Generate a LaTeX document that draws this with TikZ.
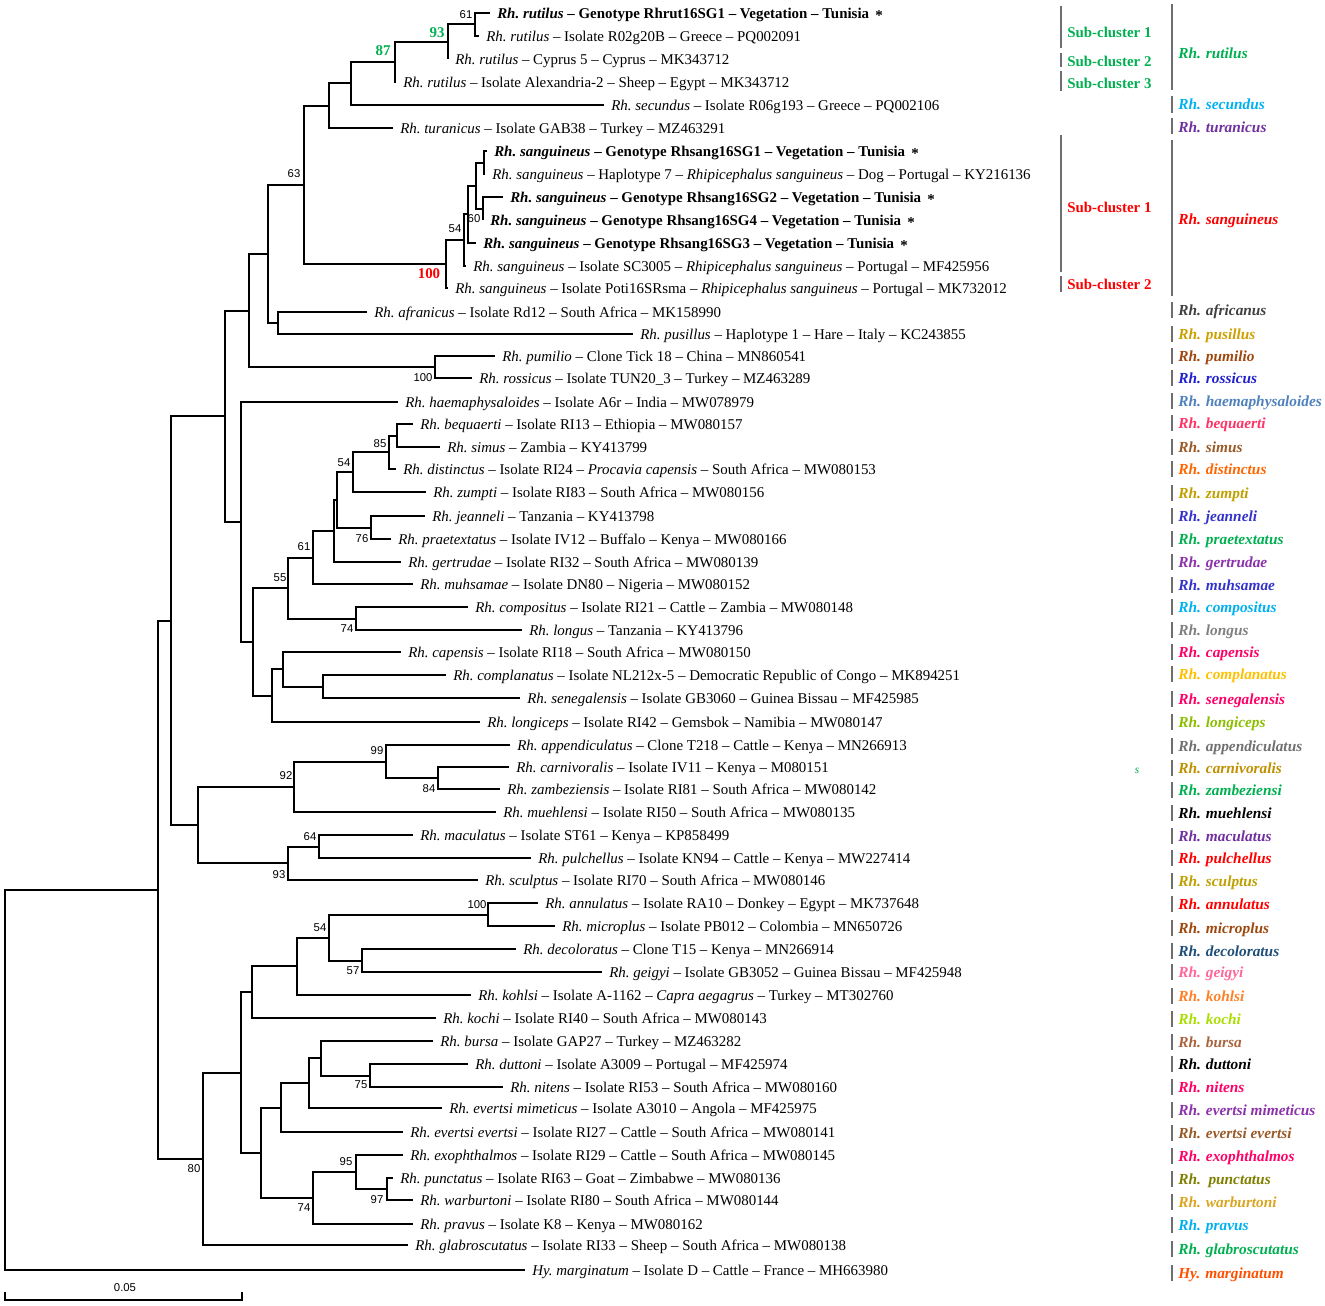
\documentclass[tikz,border=0pt]{standalone}
\usepackage{fontspec}
\setmainfont{Liberation Serif}
\newfontfamily\bsfont{Liberation Sans}

\definecolor{cgreen}{RGB}{0,176,80}
\definecolor{csecundus}{RGB}{0,176,240}
\definecolor{cturanicus}{RGB}{112,48,160}
\definecolor{cred}{RGB}{255,0,0}
\definecolor{cafricanus}{RGB}{64,64,64}
\definecolor{cpusillus}{RGB}{204,160,0}
\definecolor{cpumilio}{RGB}{158,72,14}
\definecolor{crossicus}{RGB}{32,32,204}
\definecolor{chaema}{RGB}{79,129,189}
\definecolor{cbequaerti}{RGB}{255,51,102}
\definecolor{csimus}{RGB}{153,90,40}
\definecolor{cdistinctus}{RGB}{255,102,0}
\definecolor{czumpti}{RGB}{191,160,0}
\definecolor{cjeanneli}{RGB}{51,51,204}
\definecolor{cgertrudae}{RGB}{140,50,170}
\definecolor{clongus}{RGB}{128,128,128}
\definecolor{ccapensis}{RGB}{255,0,102}
\definecolor{ccomplanatus}{RGB}{255,192,0}
\definecolor{clongiceps}{RGB}{140,190,0}
\definecolor{cappend}{RGB}{112,112,112}
\definecolor{ccarniv}{RGB}{191,144,0}
\definecolor{cdecol}{RGB}{31,78,121}
\definecolor{cgeigyi}{RGB}{255,102,153}
\definecolor{ckohlsi}{RGB}{255,127,39}
\definecolor{ckochi}{RGB}{170,221,0}
\definecolor{cbursa}{RGB}{170,100,60}
\definecolor{cpunct}{RGB}{128,128,0}
\definecolor{cwarb}{RGB}{218,165,32}
\definecolor{cmargin}{RGB}{255,80,0}
\definecolor{cbar}{RGB}{110,110,110}

\tikzset{
  branch/.style={line width=1.5pt},
  bar/.style={line width=2.2pt, color=cbar},
  tiplab/.style={anchor=base west, inner sep=0pt, font=\fontsize{11.2}{13}\selectfont},
  cladelab/.style={anchor=base west, inner sep=0pt, font=\fontsize{11.5}{13}\selectfont\bfseries\itshape},
  sublab/.style={anchor=base west, inner sep=0pt, font=\fontsize{11.2}{13}\selectfont\bfseries},
  bs/.style={inner sep=0pt, font=\bsfont\fontsize{8.5}{10}\selectfont},
  bsbig/.style={inner sep=0pt, font=\fontsize{11.2}{13}\selectfont\bfseries}
}

\newcommand{\rhsp}[1]{\textit{Rh.\ #1}}
\newcommand{\gstar}{\,\raisebox{-0.35ex}{*}}
\def\leaf(#1:#2,#3)#4{\coordinate (#1) at ({#2-7},#3); \node[tiplab] (#1l) at (#2,{#3+5.5}) {#4};}
\def\clade(#1:#2,#3)(#4,#5){\coordinate (#1) at (#2,#3); \draw[branch] (#4) -| (#1) |- (#5);}
\def\clab(#1:#2)#3#4{\draw[bar] (1172,{#2-8}) -- (1172,{#2+8}); \node[cladelab,text=#3] (#1) at (1178,{#2+5.5}) {#4};}

\begin{document}
\begin{tikzpicture}[x=0.75pt, y=-0.75pt]
			%%%%% START %%%%%
			\useasboundingbox (0,0) rectangle (1325,1306);
			
			% tips
			\leaf(t1:497,13){\textbf{\rhsp{rutilus} – Genotype Rhrut16SG1 – Vegetation – Tunisia \gstar}}
			\leaf(t2:486,36){\rhsp{rutilus} – Isolate R02g20B – Greece – PQ002091}
			\leaf(t3:455,59){\rhsp{rutilus} – Cyprus 5 – Cyprus – MK343712}
			\leaf(t4:403,82){\rhsp{rutilus} – Isolate Alexandria-2 – Sheep – Egypt – MK343712}
			\leaf(t5:611,105){\rhsp{secundus} – Isolate R06g193 – Greece – PQ002106}
			\leaf(t6:400,128){\rhsp{turanicus} – Isolate GAB38 – Turkey – MZ463291}
			\leaf(t7:494,151){\textbf{\rhsp{sanguineus} – Genotype Rhsang16SG1 – Vegetation – Tunisia \gstar}}
			\leaf(t8:492,174){\rhsp{sanguineus} – Haplotype 7 – \textit{Rhipicephalus sanguineus} – Dog – Portugal – KY216136}
			\leaf(t9:510,197){\textbf{\rhsp{sanguineus} – Genotype Rhsang16SG2 – Vegetation – Tunisia \gstar}}
			\leaf(t10:490,220){\textbf{\rhsp{sanguineus} – Genotype Rhsang16SG4 – Vegetation – Tunisia \gstar}}
			\leaf(t11:483,243){\textbf{\rhsp{sanguineus} – Genotype Rhsang16SG3 – Vegetation – Tunisia \gstar}}
			\leaf(t12:473,266){\rhsp{sanguineus} – Isolate SC3005 – \textit{Rhipicephalus sanguineus} – Portugal – MF425956}
			\leaf(t13:455,288){\rhsp{sanguineus} – Isolate Poti16SRsma – \textit{Rhipicephalus sanguineus} – Portugal – MK732012}
			\leaf(t14:374,312){\rhsp{afranicus} – Isolate Rd12 – South Africa – MK158990}
			\leaf(t15:640,334){\rhsp{pusillus} – Haplotype 1 – Hare – Italy – KC243855}
			\leaf(t16:502,356){\rhsp{pumilio} – Clone Tick 18 – China – MN860541}
			\leaf(t17:479,378){\rhsp{rossicus} – Isolate TUN20\_3 – Turkey – MZ463289}
			\leaf(t18:405,402){\rhsp{haemaphysaloides} – Isolate A6r – India – MW078979}
			\leaf(t19:420,424){\rhsp{bequaerti} – Isolate RI13 – Ethiopia – MW080157}
			\leaf(t20:447,447){\rhsp{simus} – Zambia – KY413799}
			\leaf(t21:403,469){\rhsp{distinctus} – Isolate RI24 – \textit{Procavia capensis} – South Africa – MW080153}
			\leaf(t22:433,492){\rhsp{zumpti} – Isolate RI83 – South Africa – MW080156}
			\leaf(t23:432,516){\rhsp{jeanneli} – Tanzania – KY413798}
			\leaf(t24:398,539){\rhsp{praetextatus} – Isolate IV12 – Buffalo – Kenya – MW080166}
			\leaf(t25:408,562){\rhsp{gertrudae} – Isolate RI32 – South Africa – MW080139}
			\leaf(t26:420,584){\rhsp{muhsamae} – Isolate DN80 – Nigeria – MW080152}
			\leaf(t27:475,607){\rhsp{compositus} – Isolate RI21 – Cattle – Zambia – MW080148}
			\leaf(t28:529,630){\rhsp{longus} – Tanzania – KY413796}
			\leaf(t29:408,652){\rhsp{capensis} – Isolate RI18 – South Africa – MW080150}
			\leaf(t30:453,675){\rhsp{complanatus} – Isolate NL212x-5 – Democratic Republic of Congo – MK894251}
			\leaf(t31:527,698){\rhsp{senegalensis} – Isolate GB3060 – Guinea Bissau – MF425985}
			\leaf(t32:487,722){\rhsp{longiceps} – Isolate RI42 – Gemsbok – Namibia – MW080147}
			\leaf(t33:517,745){\rhsp{appendiculatus} – Clone T218 – Cattle – Kenya – MN266913}
			\leaf(t34:516,767){\rhsp{carnivoralis} – Isolate IV11 – Kenya – M080151}
			\leaf(t35:507,789){\rhsp{zambeziensis} – Isolate RI81 – South Africa – MW080142}
			\leaf(t36:503,812){\rhsp{muehlensi} – Isolate RI50 – South Africa – MW080135}
			\leaf(t37:420,835){\rhsp{maculatus} – Isolate ST61 – Kenya – KP858499}
			\leaf(t38:538,858){\rhsp{pulchellus} – Isolate KN94 – Cattle – Kenya – MW227414}
			\leaf(t39:485,880){\rhsp{sculptus} – Isolate RI70 – South Africa – MW080146}
			\leaf(t40:545,903){\rhsp{annulatus} – Isolate RA10 – Donkey – Egypt – MK737648}
			\leaf(t41:562,926){\rhsp{microplus} – Isolate PB012 – Colombia – MN650726}
			\leaf(t42:523,949){\rhsp{decoloratus} – Clone T15 – Kenya – MN266914}
			\leaf(t43:609,972){\rhsp{geigyi} – Isolate GB3052 – Guinea Bissau – MF425948}
			\leaf(t44:478,995){\rhsp{kohlsi} – Isolate A-1162 – \textit{Capra aegagrus} – Turkey – MT302760}
			\leaf(t45:443,1018){\rhsp{kochi} – Isolate RI40 – South Africa – MW080143}
			\leaf(t46:440,1041){\rhsp{bursa} – Isolate GAP27 – Turkey – MZ463282}
			\leaf(t47:475,1064){\rhsp{duttoni} – Isolate A3009 – Portugal – MF425974}
			\leaf(t48:510,1087){\rhsp{nitens} – Isolate RI53 – South Africa – MW080160}
			\leaf(t49:449,1108){\rhsp{evertsi mimeticus} – Isolate A3010 – Angola – MF425975}
			\leaf(t50:410,1132){\rhsp{evertsi evertsi} – Isolate RI27 – Cattle – South Africa – MW080141}
			\leaf(t51:410,1155){\rhsp{exophthalmos} – Isolate RI29 – Cattle – South Africa – MW080145}
			\leaf(t52:400,1178){\rhsp{punctatus} – Isolate RI63 – Goat – Zimbabwe – MW080136}
			\leaf(t53:420,1200){\rhsp{warburtoni} – Isolate RI80 – South Africa – MW080144}
			\leaf(t54:420,1224){\rhsp{pravus} – Isolate K8 – Kenya – MW080162}
			\leaf(t55:415,1245){\rhsp{glabroscutatus} – Isolate RI33 – Sheep – South Africa – MW080138}
			\leaf(t56:532,1270){\textit{Hy.\ marginatum} – Isolate D – Cattle – France – MH663980}
			
			% rutilus / secundus / turanicus
			\clade(r61:475,24.5)(t1,t2)
			\clade(r93:448,41.75)(r61,t3)
			\clade(r87:395,61.9)(r93,t4)
			\clade(rsec:351,83.4)(r87,t5)
			\clade(rtur:329,105.7)(rsec,t6)
			
			% sanguineus
			\clade(sa:484,162.5)(t7,t8)
			\clade(sb:483,208.5)(t9,t10)
			\clade(sc:476,185.5)(sa,sb)
			\clade(s60:468,214.25)(sc,t11)
			\clade(s54:464,240.1)(s60,t12)
			\clade(s100:446,264)(s54,t13)
			\clade(n63:304,184.9)(rtur,s100)
			
			\clade(afr:278,323)(t14,t15)
			\clade(m1:268,254)(n63,afr)
			\clade(pr100:435,367)(t16,t17)
			\clade(m2:249,310.5)(m1,pr100)
			
			% afrotropical group
			\clade(bs:397,435.5)(t19,t20)
			\clade(n85:389,452.25)(bs,t21)
			\clade(n54a:353,472.1)(n85,t22)
			\clade(n76:371,527.5)(t23,t24)
			\clade(ay:337,499.8)(n54a,n76)
			\clade(ax:334,530.9)(ay,t25)
			\clade(n61b:313,557.5)(ax,t26)
			\clade(n74a:356,618.5)(t27,t28)
			\clade(n55:288,588)(n61b,n74a)
			\clade(cs:323,686.5)(t30,t31)
			\clade(cap:283,669.25)(t29,cs)
			\clade(lc:272,695.6)(cap,t32)
			\clade(big:253,641.8)(n55,lc)
			\clade(afro:241,521.9)(t18,big)
			\clade(m3:225,416.2)(m2,afro)
			
			\clade(n84:438,778)(t34,t35)
			\clade(n99:386,761.5)(t33,n84)
			\clade(n92:294,786.75)(n99,t36)
			\clade(n64:319,846.5)(t37,t38)
			\clade(n93b:288,863.25)(n64,t39)
			\clade(rh:198,825)(n92,n93b)
			\clade(m4:171,620.6)(m3,rh)
			
			% boophilus / evertsi group
			\clade(an100:488,914.5)(t40,t41)
			\clade(n57:362,960.5)(t42,t43)
			\clade(n54b:329,937.5)(an100,n57)
			\clade(ko:297,966.25)(n54b,t44)
			\clade(kc:252,992.1)(ko,t45)
			\clade(n75:370,1075.5)(t47,t48)
			\clade(bd:321,1058.25)(t46,n75)
			\clade(e2:309,1083.1)(bd,t49)
			\clade(e1:281,1107.6)(e2,t50)
			\clade(n97:387,1189)(t52,t53)
			\clade(n95:356,1172)(t51,n97)
			\clade(n74b:313,1198)(n95,t54)
			\clade(ev:261,1152.8)(e1,n74b)
			\clade(mm:241,1072.5)(kc,ev)
			\clade(n80:203,1158.75)(mm,t55)
			\clade(m5:158,889.7)(m4,n80)
			\clade(root:5,1079.8)(m5,t56)
			
			% bootstrap values
			\node[bs] (b1) at (466,15) {61};
			\node[bsbig, text=cgreen] (b2) at (437,33) {93};
			\node[bsbig, text=cgreen] (b3) at (383,51) {87};
			\node[bs] (b4) at (294,174) {63};
			\node[bs] (b5) at (455,229) {54};
			\node[bs] (b6) at (474,219) {60};
			\node[bsbig, text=cred] (b7) at (429,274) {100};
			\node[bs] (b8) at (423,378) {100};
			\node[bs] (b9) at (380,444) {85};
			\node[bs] (b10) at (344,463) {54};
			\node[bs] (b11) at (362,539) {76};
			\node[bs] (b12) at (304,547) {61};
			\node[bs] (b13) at (280,578) {55};
			\node[bs] (b14) at (347,629) {74};
			\node[bs] (b15) at (377,751) {99};
			\node[bs] (b16) at (286,776) {92};
			\node[bs] (b17) at (429,789) {84};
			\node[bs] (b18) at (310,837) {64};
			\node[bs] (b19) at (279,875) {93};
			\node[bs] (b20) at (477,905) {100};
			\node[bs] (b21) at (320,928) {54};
			\node[bs] (b22) at (353,971) {57};
			\node[bs] (b23) at (361,1085) {75};
			\node[bs] (b24) at (194,1169) {80};
			\node[bs] (b25) at (346,1162) {95};
			\node[bs] (b26) at (377,1200) {97};
			\node[bs] (b27) at (304,1208) {74};
			
			% sub-clusters
			\draw[bar] (1061,6) -- (1061,48);
			\node[sublab, text=cgreen] (sc1) at (1067,37.5) {Sub-cluster 1};
			\draw[bar] (1061,53) -- (1061,67);
			\node[sublab, text=cgreen] (sc2) at (1067,66.5) {Sub-cluster 2};
			\draw[bar] (1061,71) -- (1061,91);
			\node[sublab, text=cgreen] (sc3) at (1067,88.5) {Sub-cluster 3};
			\draw[bar] (1061,135) -- (1061,272);
			\node[sublab, text=cred] (sc4) at (1067,212.5) {Sub-cluster 1};
			\draw[bar] (1061,276) -- (1061,292);
			\node[sublab, text=cred] (sc5) at (1067,289.5) {Sub-cluster 2};
			
			% species
			\draw[bar] (1172,4) -- (1172,90);
			\node[cladelab, text=cgreen] (l1) at (1178,58.5) {Rh. rutilus};
			\draw[bar] (1172,96) -- (1172,113);
			\node[cladelab, text=csecundus] (l2) at (1178,109.5) {Rh. secundus};
			\draw[bar] (1172,118) -- (1172,134);
			\node[cladelab, text=cturanicus] (l3) at (1178,132.5) {Rh. turanicus};
			\draw[bar] (1172,140) -- (1172,296);
			\node[cladelab, text=cred] (l4) at (1178,224.5) {Rh. sanguineus};
			\clab(l5:310){cafricanus}{Rh. africanus}
			\clab(l6:334){cpusillus}{Rh. pusillus}
			\clab(l7:356){cpumilio}{Rh. pumilio}
			\clab(l8:378){crossicus}{Rh. rossicus}
			\clab(l9:401){chaema}{Rh. haemaphysaloides}
			\clab(l10:423){cbequaerti}{Rh. bequaerti}
			\clab(l11:447){csimus}{Rh. simus}
			\clab(l12:469){cdistinctus}{Rh. distinctus}
			\clab(l13:493){czumpti}{Rh. zumpti}
			\clab(l14:516){cjeanneli}{Rh. jeanneli}
			\clab(l15:539){cgreen}{Rh. praetextatus}
			\clab(l16:562){cgertrudae}{Rh. gertrudae}
			\clab(l17:585){cjeanneli}{Rh. muhsamae}
			\clab(l18:607){csecundus}{Rh. compositus}
			\clab(l19:630){clongus}{Rh. longus}
			\clab(l20:652){ccapensis}{Rh. capensis}
			\clab(l21:674){ccomplanatus}{Rh. complanatus}
			\clab(l22:699){ccapensis}{Rh. senegalensis}
			\clab(l23:722){clongiceps}{Rh. longiceps}
			\clab(l24:746){cappend}{Rh. appendiculatus}
			\clab(l25:768){ccarniv}{Rh. carnivoralis}
			\clab(l26:790){cgreen}{Rh. zambeziensi}
			\clab(l27:813){black}{Rh. muehlensi}
			\clab(l28:836){cturanicus}{Rh. maculatus}
			\clab(l29:858){cred}{Rh. pulchellus}
			\clab(l30:881){czumpti}{Rh. sculptus}
			\clab(l31:904){cred}{Rh. annulatus}
			\clab(l32:928){cpumilio}{Rh. microplus}
			\clab(l33:951){cdecol}{Rh. decoloratus}
			\clab(l34:972){cgeigyi}{Rh. geigyi}
			\clab(l35:996){ckohlsi}{Rh. kohlsi}
			\clab(l36:1019){ckochi}{Rh. kochi}
			\clab(l37:1042){cbursa}{Rh. bursa}
			\clab(l38:1064){black}{Rh. duttoni}
			\clab(l39:1087){ccapensis}{Rh. nitens}
			\clab(l40:1110){cgertrudae}{Rh. evertsi mimeticus}
			\clab(l41:1133){csimus}{Rh. evertsi evertsi}
			\clab(l42:1156){ccapensis}{Rh. exophthalmos}
			\clab(l43:1179){cpunct}{Rh.\ \ punctatus}
			\clab(l44:1202){cwarb}{Rh. warburtoni}
			\clab(l45:1225){csecundus}{Rh. pravus}
			\clab(l46:1249){cgreen}{Rh. glabroscutatus}
			\clab(l47:1273){cmargin}{Hy. marginatum}
			\node[inner sep=0pt, text=cgreen, font=\fontsize{8.5}{10}\selectfont\itshape] (stray) at (1137,771) {s};
			
			% scale bar
			\coordinate (sbl) at (5,1300);
			\coordinate (sbr) at (242,1300);
			\draw[branch] (5,1292) -- (sbl) -- (sbr) -- (242,1292);
			\node[bs, font=\bsfont\fontsize{8.5}{10}\selectfont] (sblab) at (125,1288) {0.05};
			
			%%%%% END %%%%%
		\end{tikzpicture}
\end{document}
